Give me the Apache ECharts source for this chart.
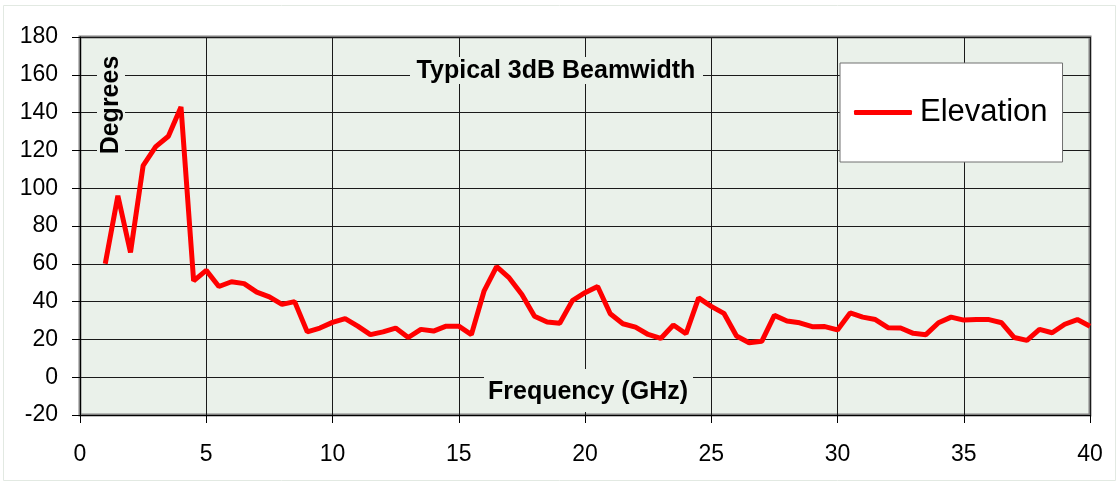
<!DOCTYPE html>
<html>
<head>
<meta charset="utf-8">
<script src="https://cdn.jsdelivr.net/npm/echarts@6/dist/echarts.min.js"></script>
<style>
html,body{margin:0;padding:0;background:#fff;}
#chart{width:1118px;height:483px;}
</style>
</head>
<body>
<div id="chart"></div>
<script>
var freqs = [1,1.5,2,2.5,3,3.5,4,4.5,5,5.5,6,6.5,7,7.5,8,8.5,9,9.5,10,10.5,
  11,11.5,12,12.5,13,13.5,14,14.5,15,15.5,16,16.5,17,17.5,18,18.5,19,19.5,20,20.5,
  21,21.5,22,22.5,23,23.5,24,24.5,25,25.5,26,26.5,27,27.5,28,28.5,29,29.5,30,30.5,
  31,31.5,32,32.5,33,33.5,34,34.5,35,35.5,36,36.5,37,37.5,38,38.5,39,39.5,40];
var elevation = [60,96,66,112,122,127.5,143,51,56.5,48,50.5,49.5,45,42.5,38.5,40,24,26,29,31,
  27,22.5,24,26,21,25.3,24.4,27,27,22.5,45.5,58.5,52.5,43.8,32.3,29.2,28.5,40.5,44.7,48,
  33.6,28.3,26.5,22.6,20.5,27.6,23,42,37.5,33.8,21.8,18.2,19,32.7,29.7,28.8,26.7,26.8,25,34,
  31.8,30.5,26.2,26,23.2,22.5,28.8,31.8,30.2,30.5,30.5,28.8,21,19.5,25.3,23.5,28,30.5,27];
var seriesName = 'Elevation';
var chartTitle = 'Typical 3dB Beamwidth';
var xTitle = 'Frequency (GHz)';
var yTitle = 'Degrees';

var points = freqs.map(function (f, i) { return [f, elevation[i]]; });
var plotBg = '#eaf1ea';
var fontFam = '"Liberation Sans", Arial, sans-serif';

var chart = echarts.init(document.getElementById('chart'), null, {renderer: 'canvas'});
chart.setOption({
  backgroundColor: '#ffffff',
  animation: false,
  grid: {
    left: 80, top: 37, right: 28, bottom: 68,
    show: true, backgroundColor: plotBg, borderColor: '#808080', borderWidth: 3
  },
  xAxis: {
    type: 'value', min: 0, max: 40, interval: 5,
    axisLine: {show: true, onZero: false, lineStyle: {color: '#000', width: 1}},
    axisTick: {show: true, length: 8, lineStyle: {color: '#000'}},
    axisLabel: {color: '#000', fontSize: 23, fontFamily: fontFam, margin: 28},
    splitLine: {show: true, lineStyle: {color: '#1a1a1a', width: 1}}
  },
  yAxis: {
    type: 'value', min: -20, max: 180, interval: 20,
    axisLine: {show: true, onZero: false, lineStyle: {color: '#000', width: 1}},
    axisTick: {show: true, length: 8, lineStyle: {color: '#000'}},
    axisLabel: {color: '#000', fontSize: 23, fontFamily: fontFam, margin: 22},
    splitLine: {show: true, lineStyle: {color: '#1a1a1a', width: 1}}
  },
  legend: {
    show: true,
    data: [seriesName],
    left: 840, top: 63,
    orient: 'vertical',
    backgroundColor: '#ffffff',
    borderColor: '#707070', borderWidth: 1,
    padding: [34, 15, 34, 14],
    itemWidth: 58, itemHeight: 5,
    icon: 'roundRect',
    textStyle: {fontSize: 31, fontFamily: fontFam, color: '#000', padding: [0, 0, 0, 3]}
  },
  graphic: [
    {type: 'rect', z: 100, silent: true,
     shape: {x: 3.5, y: 5.5, width: 1112, height: 475},
     style: {fill: 'none', stroke: '#e2e9e2', lineWidth: 1}},
    {type: 'rect', z: 50, shape: {x: 410, y: 57, width: 293, height: 27}, style: {fill: plotBg}},
    {type: 'text', z: 51, x: 556, y: 71,
     style: {text: chartTitle, font: 'bold 25px ' + fontFam, fill: '#000', align: 'center', verticalAlign: 'middle'}},
    {type: 'rect', z: 50, shape: {x: 484, y: 369, width: 209, height: 43}, style: {fill: plotBg}},
    {type: 'text', z: 51, x: 588, y: 392,
     style: {text: xTitle, font: 'bold 25px ' + fontFam, fill: '#000', align: 'center', verticalAlign: 'middle'}},
    {type: 'rect', z: 50, shape: {x: 97, y: 50, width: 28, height: 111}, style: {fill: plotBg}},
    {type: 'text', z: 51, x: 111, y: 105, rotation: Math.PI / 2,
     style: {text: yTitle, font: 'bold 25px ' + fontFam, fill: '#000', align: 'center', verticalAlign: 'middle'}}
  ],
  series: [{
    name: seriesName,
    type: 'line',
    data: points,
    symbol: 'none',
    color: '#ff0000',
    lineStyle: {color: '#ff0000', width: 5},
    z: 10
  }]
});
</script>
</body>
</html>
